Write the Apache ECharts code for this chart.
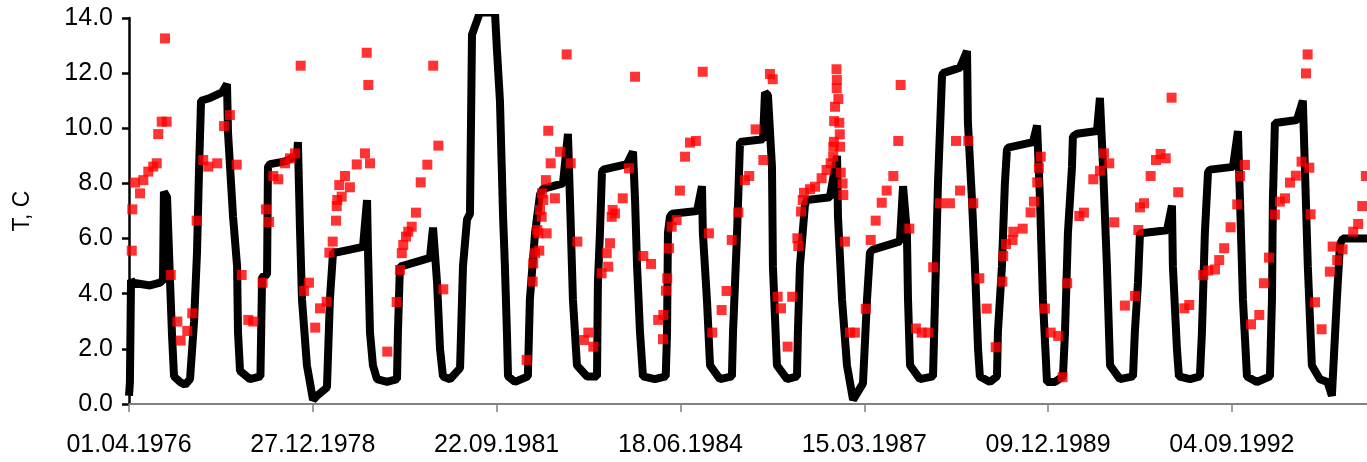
<!DOCTYPE html>
<html>
<head>
    <meta charset="utf-8">
    <title>T, C</title>
    <style>
        html, body { margin: 0; padding: 0; background: #fff; }
    </style>
</head>
<body>
<script src="https://cdn.jsdelivr.net/npm/echarts@6/dist/echarts.min.js" type="text/javascript" charset="utf-8"></script>
<div id="main" style="width: 1367px;height:462px;"></div>
<script type="text/javascript">
    // days counted from 01.04.1976
    var startDate = Date.UTC(1976, 3, 1);

    // black line: measured temperature
    var lineDays = [0, 5, 11, 22, 114, 169, 185, 190, 207, 223, 234, 245, 277, 305, 332, 354, 370, 381, 392, 441, 506, 533,
        539, 566, 588, 593, 604, 658, 715, 724, 751, 756, 767, 849, 914, 919, 930, 941, 968, 1001, 1023, 1077, 1093, 1110,
        1131, 1273, 1295, 1300, 1311, 1327, 1349, 1404, 1458, 1463, 1474, 1485, 1637, 1654, 1676, 1692, 1708, 1746, 1801,
        1817, 1839, 1855, 1866, 1893, 1909, 1991, 2002, 2018, 2035, 2045, 2056, 2062, 2100, 2170, 2181, 2209, 2236, 2252,
        2361, 2388, 2399, 2415, 2437, 2492, 2546, 2551, 2562, 2573, 2579, 2709, 2742, 2753, 2764, 2780, 2796, 2861, 2920,
        2927, 2932, 2943, 2954, 3090, 3117, 3122, 3144, 3161, 3215, 3280, 3286, 3308, 3324, 3449, 3460, 3476, 3498, 3503,
        3525, 3580, 3634, 3639, 3650, 3677, 3688, 3813, 3852, 3857, 3879, 3906, 3939, 3993, 4015, 4031, 4047, 4194, 4211,
        4232, 4238, 4249, 4303, 4374, 4385, 4401, 4423, 4428, 4521, 4559, 4564, 4586, 4602, 4619, 4629, 4684, 4722, 4727,
        4749, 4765, 4776, 4782, 4918, 4940, 4956, 4972, 4994, 5037, 5081, 5092, 5108, 5130, 5135, 5157, 5266, 5282, 5299,
        5320, 5337, 5391, 5462, 5472, 5489, 5500, 5516, 5647, 5674, 5679, 5701, 5712, 5772, 5826, 5837, 5853, 5870, 5881,
        6006, 6033, 6044, 6060, 6082, 6136, 6207, 6218, 6223, 6234, 6245, 6354, 6386, 6397, 6413, 6435, 6479, 6520, 6544,
        6571, 6588, 6604, 6735];
    var lineTemp = [0.3, 0.8, 4.5, 4.4, 4.3, 4.4, 4.5, 7.7, 7.5, 4.5, 2.5, 1.0, 0.8, 0.7, 0.9, 3.0, 5.5, 8.5, 11.0, 11.1, 11.3, 11.6,
        9.8, 6.8, 5.0, 2.6, 1.2, 0.9, 1.0, 4.6, 4.7, 8.6, 8.7, 8.8, 9.0, 9.5, 6.4, 3.8, 1.4, 0.15, 0.3, 0.6, 3.8, 5.5,
        5.5, 5.7, 7.4, 5.6, 2.6, 1.4, 0.9, 0.8, 0.9, 2.6, 5.0, 5.0, 5.3, 6.4, 4.4, 2.0, 1.0, 0.9, 1.3,
        5.0, 6.7, 6.9, 13.4, 13.9, 14.2, 14.2, 12.8, 11.0, 6.8, 5.0, 2.6, 1.0, 0.8, 1.0, 3.8, 6.2, 7.6, 7.8,
        8.0, 9.8, 7.4, 3.8, 1.4, 1.0, 1.0, 4.4, 6.2, 8.4, 8.5, 8.7, 9.15, 7.4, 5.0, 2.6, 1.0, 0.9, 1.0,
        2.6, 6.2, 6.8, 6.9, 7.0, 7.9, 6.2, 3.8, 1.4, 0.9, 1.0, 2.6, 6.2, 9.5, 9.6, 11.3, 11.2, 8.6, 5.0,
        1.4, 0.9, 1.0, 2.6, 5.0, 7.2, 7.4, 7.5, 9.0, 6.8, 3.8, 1.4, 0.15, 0.75, 3.8, 5.5, 5.6, 5.9, 7.9,
        6.2, 3.8, 1.4, 0.9, 1.0, 3.8, 8.0, 11.9, 12.0, 12.2, 12.8, 10.2, 7.4, 5.0, 2.0, 1.0, 0.8, 1.0, 2.6,
        5.0, 8.0, 9.2, 9.3, 9.5, 10.1, 7.4, 3.8, 0.8, 0.8, 1.0, 2.6, 6.2, 8.6, 9.7, 9.8, 9.9, 11.1, 8.6,
        5.0, 1.4, 0.9, 1.0, 2.6, 4.4, 6.2, 6.2, 6.3, 7.2, 5.0, 2.0, 1.0, 0.9, 1.0, 2.6, 6.2, 8.4, 8.5,
        8.6, 9.9, 7.4, 3.8, 1.0, 0.8, 1.0, 3.8, 7.4, 10.2, 10.2, 10.3, 11.0, 8.6, 5.0, 1.4, 0.9, 0.8, 0.3,
        3.8, 5.8, 6.0, 6.0];

    // red squares: second series
    var pointDays = [15, 18, 33, 60, 78, 105, 132, 151, 159, 178, 205, 196, 227, 263, 281, 317, 344, 368, 404, 431, 480, 517,
        549, 586, 613, 649, 676, 727, 745, 762, 785, 812, 849, 876, 903, 934, 952, 979, 1013, 1039, 1075, 1090, 1108, 1126,
        1130, 1133, 1157, 1144, 1175, 1202, 1239, 1284, 1311, 1293, 1302, 1405, 1456, 1474, 1484, 1492, 1507, 1519, 1538,
        1561, 1587, 1623, 1655, 1683, 1710, 2163, 2196, 2199, 2209, 2232, 2227, 2221, 2245, 2236, 2254, 2247, 2268, 2272,
        2294, 2317, 2345, 2281, 2381, 2403, 2439, 2475, 2499, 2526, 2571, 2607, 2599, 2617, 2626, 2644, 2631, 2686, 2720,
        2753, 2798, 2840, 2879, 2907, 2905, 2921, 2928, 2938, 2952, 2979, 2997, 3025, 3052, 3084, 3121, 3155, 3173, 3224,
        3251, 3279, 3315, 3351, 3374, 3409, 3451, 3487, 3502, 3529, 3547, 3583, 3608, 3641, 3636, 3656, 3665, 3672, 3705,
        3732, 3768, 3795, 3817, 3831, 3832, 3868, 3835, 3867, 3836, 3864, 3841, 3859, 3850, 3851, 3849, 3872, 3882, 3886,
        3895, 3922, 3949, 4008, 4035, 4062, 4095, 4122, 4158, 4185, 4198, 4245, 4375, 4281, 4312, 4348, 4412, 4466, 4499,
        4521, 4566, 4593, 4626, 4666, 4715, 4751, 4756, 4771, 4807, 4811, 4862, 4905, 4923, 4941, 4950, 4960, 4983, 5014,
        5055, 5079, 5104, 5170, 5195, 5246, 5282, 5304, 5333, 5360, 5418, 5473, 5491, 5500, 5522, 5558, 5587, 5612, 5640,
        5672, 5708, 5741, 5768, 5844, 5871, 5908, 5931, 5958, 5993, 6029, 6044, 6071, 6104, 6149, 6174, 6202, 6234, 6261,
        6289, 6316, 6348, 6379, 6421, 6403, 6412, 6428, 6452, 6488, 6533, 6548, 6573, 6602, 6660, 6687, 6709, 6729];
    var pointTemp = [5.56, 7.06, 8.03, 7.64, 8.12, 8.43, 8.61, 8.73, 9.79, 10.24, 10.24, 13.26, 4.68, 2.99, 2.30, 2.65, 3.29, 6.65, 8.85, 8.61, 8.73, 10.08,
        10.48, 8.68, 4.68, 3.05, 2.99, 4.40, 7.06, 6.60, 8.27, 8.15, 8.73, 8.91, 9.09, 12.27, 4.10, 4.40, 2.77, 3.47, 3.71, 5.49, 5.89, 6.65,
        7.18, 7.40, 7.52, 7.94, 8.27, 7.86, 8.69, 9.09, 8.73, 12.74, 11.57, 1.90, 3.70, 4.86, 5.47, 5.77, 6.07, 6.25, 6.43,
        6.94, 8.04, 8.68, 12.27, 9.37, 4.16, 1.60, 4.44, 5.10, 5.47, 5.56, 6.19, 6.31, 6.79, 7.04, 7.40, 7.64, 8.12, 6.19,
        8.73, 7.46, 9.15, 9.91, 12.68, 8.73, 5.89, 2.32, 2.59, 2.08, 4.74, 4.98, 5.47, 5.83, 6.79, 6.91, 7.04, 7.46, 8.55,
        11.87, 5.37, 5.08, 3.05, 3.23, 2.35, 4.11, 4.56, 5.65, 6.43, 6.67, 7.74, 8.97, 9.48, 9.54, 12.05, 6.19, 2.59, 3.41,
        4.10, 5.95, 6.95, 8.12, 8.27, 9.96, 8.85, 11.97, 11.78, 3.89, 3.47, 2.08, 3.89, 5.73, 6.01, 6.98, 7.40, 7.66, 7.79,
        7.88, 8.19, 8.49, 8.73, 8.97, 9.33, 9.33, 9.51, 9.78, 10.26, 10.20, 10.78, 11.06, 11.45, 11.75, 12.14, 8.39, 8.00, 7.58,
        5.89, 2.59, 2.59, 3.45, 5.95, 6.65, 7.30, 7.74, 8.27, 9.54, 11.57, 6.36, 4.96, 2.74, 2.59, 2.59, 7.28, 7.28, 9.54,
        7.74, 9.54, 7.28, 4.56, 3.46, 2.06, 4.44, 5.37, 5.80, 5.95, 6.25, 6.36, 6.95, 7.34, 8.04, 8.57, 8.97, 3.46, 2.59,
        2.47, 0.97, 4.38, 6.82, 6.94, 8.15, 8.46, 9.09, 8.73, 6.59, 3.57, 3.92, 6.31, 7.13, 7.28, 8.27, 8.85, 9.07, 8.91,
        11.11, 7.68, 3.47, 3.59, 4.68, 4.84, 4.88, 5.22, 5.65, 6.41, 7.24, 8.27, 8.67, 2.89, 3.23, 4.38, 5.31, 6.87, 7.34,
        7.46, 8.03, 8.28, 8.79, 8.57, 11.99, 12.68, 6.88, 3.69, 2.71, 4.80, 5.71, 5.22, 5.61, 6.25, 6.53, 7.18, 8.27];

    var yTicks = [0, 2, 4, 6, 8, 10, 12, 14];

    function pad(n) {
        return n < 10 ? '0' + n : '' + n;
    }
    function dayLabel(v) {
        var d = new Date(startDate + v * 86400000);
        return pad(d.getUTCDate()) + '.' + pad(d.getUTCMonth() + 1) + '.' + d.getUTCFullYear();
    }

    var lineData = [];
    for (var i = 0; i < lineDays.length; i++) {
        lineData.push([lineDays[i], lineTemp[i]]);
    }
    var pointData = [];
    for (var j = 0; j < pointDays.length; j++) {
        pointData.push([pointDays[j], pointTemp[j]]);
    }

    var font = "'Liberation Sans', Arial, sans-serif";
    var myChart = echarts.init(document.getElementById('main'));

    var option = {
        animation: false,
        backgroundColor: '#ffffff',
        grid: {
            left: 129,
            right: 0,
            top: 18,
            bottom: 58
        },
        xAxis: {
            type: 'value',
            min: 0,
            max: 6735,
            interval: 1000,
            splitLine: { show: false },
            axisLine: { lineStyle: { color: '#808080', width: 2 } },
            axisTick: { length: 8, lineStyle: { color: '#808080', width: 1.5 } },
            axisLabel: {
                color: '#000',
                fontFamily: font,
                fontSize: 25,
                margin: 29,
                showMaxLabel: false,
                formatter: dayLabel
            }
        },
        yAxis: {
            type: 'value',
            min: yTicks[0],
            max: yTicks[yTicks.length - 1],
            interval: yTicks[1] - yTicks[0],
            name: 'T, C',
            nameLocation: 'middle',
            nameGap: 95,
            nameTextStyle: { color: '#000', fontFamily: font, fontSize: 23 },
            splitLine: { show: false },
            axisLine: { lineStyle: { color: '#000', width: 2.5 } },
            axisTick: { length: 7, lineStyle: { color: '#000', width: 2.5 } },
            axisLabel: {
                color: '#000',
                fontFamily: font,
                fontSize: 25,
                margin: 16,
                formatter: function (v) { return v.toFixed(1); }
            }
        },
        series: [
            {
                name: 'line',
                type: 'line',
                data: lineData,
                showSymbol: false,
                clip: true,
                lineStyle: { color: '#000', width: 8 },
                z: 2
            },
            {
                name: 'points',
                type: 'scatter',
                data: pointData,
                symbol: 'rect',
                symbolSize: 10,
                clip: false,
                itemStyle: { color: '#ff0000' },
                z: 3
            }
        ]
    };

    myChart.setOption(option);
</script>
</body>
</html>
